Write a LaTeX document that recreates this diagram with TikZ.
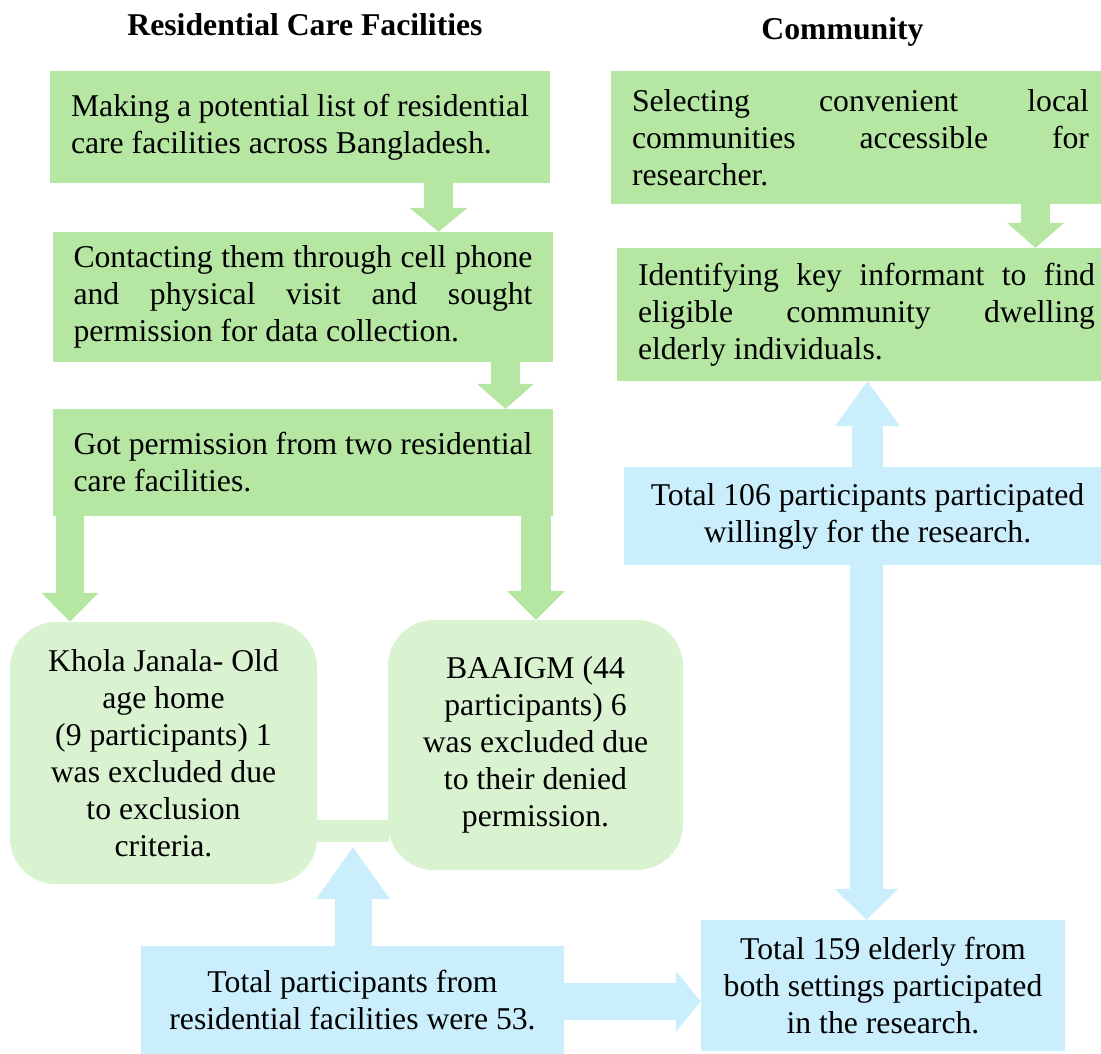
\documentclass[tikz,border=0pt]{standalone}
\usepackage{fontspec}
\setmainfont{Liberation Serif}
\usetikzlibrary{arrows.meta}
\definecolor{gdark}{HTML}{B5E6A2}
\definecolor{glight}{HTML}{D9F2D0}
\definecolor{bluebox}{HTML}{CAEEFB}
\newcommand\nsp{\spaceskip=0pt\xspaceskip=0pt\relax}
\newcommand\jline[2]{\makebox[#1][s]{#2}}
\begin{document}
\begin{tikzpicture}[x=1pt,y=-1pt,
  txt/.style={font=\fontsize{31.7}{37}\selectfont, inner sep=0pt},
  title/.style={font=\fontsize{31.7}{37}\selectfont\bfseries, inner sep=0pt, anchor=base},
  gbox/.style={txt, fill=gdark, align=left},
  lbox/.style={txt, fill=glight, align=center, rounded corners=46pt},
  bbox/.style={txt, fill=bluebox, align=center},
  blk/.style n args={4}{draw=#1, line width=#2, -{Triangle[width=#3, length=#4, line width=0pt]}},
]
\useasboundingbox (0,0) rectangle (1101,1053);

% titles
\node[title] (t1) at (305,35) {Residential Care Facilities};
\node[title] (t2) at (842.5,39) {Community};

% residential column
\node[gbox, minimum width=500pt, minimum height=112pt, text width=458pt] (A) at (300,127)
  {\nsp\jline{458pt}{Making a potential list of residential}\\care facilities across Bangladesh.};
\node[gbox, minimum width=500pt, minimum height=130pt, text width=459pt] (B) at (303,297)
  {\nsp\jline{459pt}{Contacting them through cell phone}\\\jline{459pt}{and physical visit and sought}\\permission for data collection.};
\node[gbox, minimum width=500pt, minimum height=107pt, text width=459pt] (C) at (303,462.5)
  {\nsp\jline{459pt}{Got permission from two residential}\\care facilities.};

\node[lbox, minimum width=307pt, minimum height=262pt] (K) at (163.5,753)
  {\nsp Khola Janala- Old\\age home\\(9 participants) 1\\was excluded due\\to exclusion\\criteria.};
\node[lbox, minimum width=295pt, minimum height=250pt] (G) at (535.5,745)
  {\nsp BAAIGM (44\\participants) 6\\was excluded due\\to their denied\\permission.};
\node[fill=glight, minimum width=72pt, minimum height=22pt, inner sep=0pt] (L) at (352.5,831) {};

\node[bbox, minimum width=423pt, minimum height=109pt] (T53) at (352.5,1000.5)
  {\nsp Total participants from\\residential facilities were 53.};

% community column
\node[gbox, minimum width=499pt, minimum height=133pt, text width=457pt] (D) at (860.5,137.5)
  {\nsp\jline{457pt}{Selecting convenient local}\\\jline{457pt}{communities accessible for}\\researcher.};
\node[gbox, minimum width=499pt, minimum height=133pt, text width=457pt] (E) at (866.5,314.5)
  {\nsp\jline{457pt}{Identifying key informant to find}\\\jline{457pt}{eligible community dwelling}\\elderly individuals.};
\node[bbox, minimum width=487pt, minimum height=98pt] (T106) at (867.5,516)
  {\nsp Total 106 participants participated\\willingly for the research.};
\node[bbox, minimum width=364pt, minimum height=131pt] (T159) at (883,985.5)
  {\nsp Total 159 elderly from\\both settings participated\\in the research.};

% green arrows
\draw[blk={gdark}{29pt}{58pt}{24pt}] (A.south -| 438.5,0) -- (B.north -| 438.5,0);
\draw[blk={gdark}{29pt}{57pt}{25pt}] (B.south -| 505.5,0) -- (C.north -| 505.5,0);
\draw[blk={gdark}{28.5pt}{57pt}{29pt}] (C.south -| 70,0) -- (K.north -| 70,0);
\draw[blk={gdark}{30pt}{58pt}{29pt}] (C.south -| 536,0) -- (G.north -| 536,0);
\draw[blk={gdark}{29pt}{57pt}{25pt}] (D.south -| 1035.5,0) -- (E.north -| 1035.5,0);

% blue arrows
\draw[blk={bluebox}{37pt}{74pt}{52pt}, shorten >=5pt] (T53.north -| 353,0) -- (L.south -| 353,0);
\draw[blk={bluebox}{37pt}{61pt}{25pt}] (T53.east |- 0,1001.5) -- (T159.west |- 0,1001.5);
\draw[blk={bluebox}{31pt}{65pt}{45pt}] (T106.north -| 867.5,0) -- (E.south -| 867.5,0);
\draw[blk={bluebox}{33pt}{64pt}{31pt}] (T106.south -| 866.5,0) -- (T159.north -| 866.5,0);
\end{tikzpicture}
\end{document}
